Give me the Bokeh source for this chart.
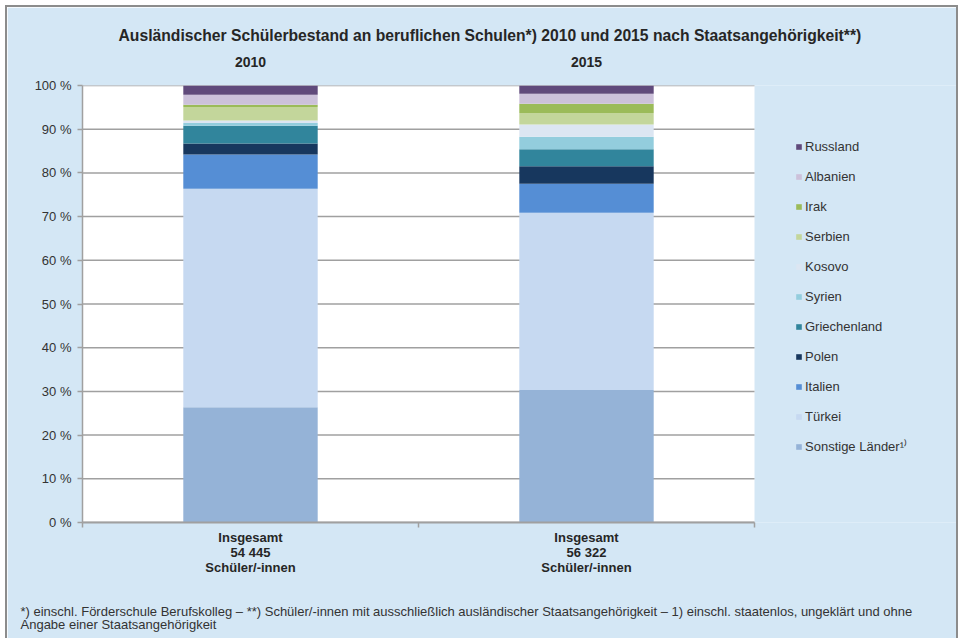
from bokeh.plotting import figure
from bokeh.models import (Legend, LegendItem, Title, FixedTicker, Range1d, LinearAxis)
from bokeh.embed import file_html
from bokeh.resources import INLINE

# ---- data ----
years = ["2010", "2015"]
x_pos = [0.5, 1.5]
totals = ["54 445", "56 322"]
countries = ["Sonstige Länder", "Türkei", "Italien", "Polen", "Griechenland", "Syrien",
             "Kosovo", "Serbien", "Irak", "Albanien", "Russland"]
legend_labels = ["Sonstige Länder\u00b9\u207e", "Türkei", "Italien", "Polen", "Griechenland", "Syrien",
                 "Kosovo", "Serbien", "Irak", "Albanien", "Russland"]
share_2010 = [26.4, 50.0, 7.8, 2.5, 4.1, 0.6, 0.6, 3.1, 0.5, 2.3, 2.1]
share_2015 = [30.3, 40.6, 6.6, 4.0, 3.9, 2.9, 2.8, 2.6, 2.1, 2.3, 1.9]
colors = ["#95B3D7", "#C6D9F1", "#558ED5", "#17375E", "#31859C", "#93CDDD",
          "#DCE6F2", "#C3D69B", "#9BBB59", "#CCC1DA", "#604A7B"]
y_ticks = [0, 10, 20, 30, 40, 50, 60, 70, 80, 90, 100]
y_tick_labels = ["0 %", "10 %", "20 %", "30 %", "40 %", "50 %", "60 %", "70 %", "80 %", "90 %", "100 %"]

title_text = "Ausländischer Schülerbestand an beruflichen Schulen*) 2010 und 2015 nach Staatsangehörigkeit**)"
foot_text = ("*) einschl. Förderschule Berufskolleg – **) Schüler/-innen mit ausschließlich ausländischer "
             "Staatsangehörigkeit – 1) einschl. staatenlos, ungeklärt und ohne\n"
             "Angabe einer Staatsangehörigkeit")

BG = "#D4E7F5"
GRID = "#A0A0A0"
FRAME_LINE = "#8C8C8C"
FONT = "Liberation Sans"
TXT = "#262626"

# canvas starts at (7, 7) inside a 5px white margin and a 2px grey box line
CANVAS_W = 949
CANVAS_H = 631
LEFT = 75
TOP = 78
FRAME_W = CANVAS_W - LEFT
FRAME_H = 437
X_MAX = 2 * FRAME_W / 672   # the two categories occupy 672 px

data = {"x": x_pos}
keys = []
for i, c in enumerate(countries):
    k = f"c{i}"
    keys.append(k)
    data[k] = [share_2010[i], share_2015[i]]

p = figure(frame_width=FRAME_W, frame_height=FRAME_H, min_border_left=LEFT, min_border_right=0,
           min_border_top=TOP, min_border_bottom=CANVAS_H - TOP - FRAME_H, output_backend="svg",
           toolbar_location=None, x_range=Range1d(0, X_MAX), y_range=Range1d(0, 100),
           x_axis_location=None)
p.styles = {"margin-left": "5px", "margin-top": "5px",
            "border-left": f"2px solid {FRAME_LINE}", "border-top": f"2px solid {FRAME_LINE}",
            "border-right": f"2px solid {FRAME_LINE}"}
p.border_fill_color = BG
p.background_fill_color = BG
p.outline_line_color = None
p.xgrid.grid_line_color = None
p.ygrid.grid_line_color = None

# white plot area and horizontal gridlines (only over the two categories)
p.quad(left=[0], right=[2], bottom=[y_ticks[0]], top=[y_ticks[-1]], color="white", line_color=None)
p.segment(x0=[0] * len(y_ticks), x1=[2] * len(y_ticks), y0=y_ticks, y1=y_ticks,
          line_color=GRID, line_width=1.5)

renderers = p.vbar_stack(keys, x="x", width=0.4, color=colors, line_color=None, source=data)

# y axis
p.yaxis.ticker = FixedTicker(ticks=y_ticks)
p.yaxis.major_label_overrides = {t: l for t, l in zip(y_ticks, y_tick_labels)}
p.yaxis.major_label_text_font = FONT
p.yaxis.major_label_text_font_size = "13px"
p.yaxis.major_label_text_color = "#333333"
p.yaxis.axis_line_color = GRID
p.yaxis.axis_line_width = 1.5
p.yaxis.major_tick_line_color = GRID
p.yaxis.major_tick_line_width = 1.5
p.yaxis.major_tick_in = 0
p.yaxis.major_tick_out = 5
p.yaxis.minor_tick_line_color = None
p.yaxis.major_label_standoff = 6

# bottom axis: labels at bar centres, tick marks at category borders (minor ticks)
xlab = {xp: f"Insgesamt\n{tot}\nSchüler/-innen" for xp, tot in zip(x_pos, totals)}
xb = LinearAxis(ticker=FixedTicker(ticks=x_pos, minor_ticks=[0, 1, 2]), bounds=(0, 2),
                major_label_overrides=xlab,
                major_label_text_font=FONT, major_label_text_font_size="13px",
                major_label_text_font_style="bold", major_label_text_color=TXT,
                major_label_text_line_height=1.0,
                major_label_standoff=2,
                axis_line_color=GRID, axis_line_width=2,
                major_tick_line_color=None, major_tick_out=0, major_tick_in=0,
                minor_tick_line_color=GRID, minor_tick_line_width=1.5,
                minor_tick_out=5, minor_tick_in=0)
p.add_layout(xb, "below")

# top axis: year headers
xt = LinearAxis(ticker=FixedTicker(ticks=x_pos),
                major_label_overrides={xp: yr for xp, yr in zip(x_pos, years)},
                major_label_text_font=FONT, major_label_text_font_size="14px",
                major_label_text_font_style="bold", major_label_text_color=TXT,
                major_label_standoff=19, axis_line_color=None,
                major_tick_line_color=None, minor_tick_line_color=None,
                major_tick_out=0, major_tick_in=0)
p.add_layout(xt, "above")

# title
p.add_layout(Title(text=title_text, align="left", offset=36, standoff=20,
                   text_font=FONT, text_font_size="15.7px", text_font_style="bold",
                   text_color=TXT), "above")

# footnote
p.add_layout(Title(text=foot_text, align="left", offset=-62, standoff=50,
                   text_font=FONT, text_font_size="13px", text_font_style="normal",
                   text_line_height=0.87, text_color="#333333"), "below")

# legend (top = Russland)
items = [LegendItem(label=legend_labels[i], renderers=[renderers[i]])
         for i in reversed(range(len(countries)))]
legend = Legend(items=items, location=(713, 66), glyph_width=7, glyph_height=7,
                label_height=20, spacing=10, padding=0, margin=0, label_standoff=3,
                label_text_font=FONT, label_text_font_size="13px", label_text_color="#333333",
                background_fill_alpha=0, border_line_color=None)
p.add_layout(legend)

open("out.html", "w").write(file_html(p, INLINE))
